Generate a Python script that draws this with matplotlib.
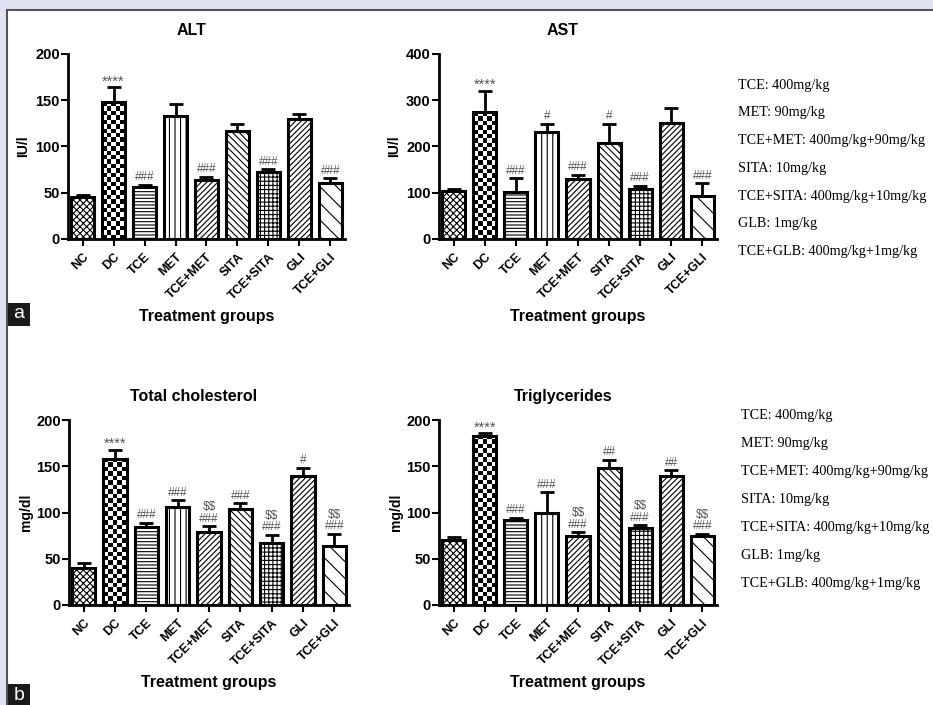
import numpy as np
import matplotlib
matplotlib.use("Agg")
import matplotlib.pyplot as plt
from matplotlib.patches import Rectangle
from matplotlib.lines import Line2D

groups = ["NC", "DC", "TCE", "MET", "TCE+MET", "SITA", "TCE+SITA", "GLI", "TCE+GLI"]

alt_mean = [45, 148, 56, 133, 64, 117, 72, 130, 61]
alt_err = [3, 16, 2.5, 13, 3.5, 7, 3.5, 5, 5]
alt_ann = ["", "****", "###", "", "###", "", "###", "", "###"]

ast_mean = [104, 274, 101, 232, 130, 207, 109, 250, 92]
ast_err = [4, 47, 30, 17, 9, 42, 6, 33, 29]
ast_ann = ["", "****", "###", "#", "###", "#", "###", "", "###"]

tc_mean = [40, 158, 84, 106, 79, 104, 67, 140, 64]
tc_err = [5, 10, 5, 7.5, 6, 6, 9, 8.5, 13]
tc_ann = ["", "****", "###", "###", "$$\n###", "###", "$$\n###", "#", "$$\n###"]

tg_mean = [70, 183, 92, 100, 75, 148, 83, 140, 75]
tg_err = [4, 3, 2.5, 22, 3.5, 9, 3.5, 5.5, 2]
tg_ann = ["", "****", "###", "###", "$$\n###", "##", "$$\n###", "##", "$$\n###"]

doses = ["TCE: 400mg/kg", "MET: 90mg/kg", "TCE+MET: 400mg/kg+90mg/kg", "SITA: 10mg/kg",
         "TCE+SITA: 400mg/kg+10mg/kg", "GLB: 1mg/kg", "TCE+GLB: 400mg/kg+1mg/kg"]

hatches = ["xxxxx", None, "-----", "|||", "//////", "\\\\\\\\\\", "++++", "//////", "\\\\"]

plt.rcParams["font.family"] = ["Liberation Sans", "DejaVu Sans"]
plt.rcParams["hatch.linewidth"] = 0.8

W, H = 933, 705
fig = plt.figure(figsize=(W / 100, H / 100), dpi=100)

def px_rect(x0, y0, x1, y1, **kw):
    fig.patches.append(Rectangle((x0 / W, 1 - y1 / H), (x1 - x0) / W, (y1 - y0) / H,
                                 transform=fig.transFigure, figure=fig, **kw))

# background frame
px_rect(0, 0, W, H, facecolor="#dfe3f1", edgecolor="none", zorder=-10)
px_rect(8, 11, W, H, facecolor="white", edgecolor="none", zorder=-9)
fig.lines.append(Line2D([7 / W, 1], [1 - 10 / H, 1 - 10 / H], transform=fig.transFigure,
                        color="#555555", lw=1.5, zorder=-8))
fig.lines.append(Line2D([7 / W, 7 / W], [0, 1 - 10 / H], transform=fig.transFigure,
                        color="#555555", lw=1.5, zorder=-8))


def checker(ax, patch):
    x, y = patch.get_x(), patch.get_y()
    w, h = patch.get_width(), patch.get_height()
    bb = patch.get_window_extent(fig.canvas.get_renderer())
    nx = max(2, int(round(bb.width / 4.4)))
    ny = max(2, int(round(bb.height / 4.4)))
    arr = (np.add.outer(np.arange(ny), np.arange(nx)) % 2).astype(float)
    im = ax.imshow(arr, cmap="gray", extent=(x, x + w, y, y + h), aspect="auto",
                   interpolation="nearest", zorder=1.9, origin="lower")
    im.set_clip_path(patch)
    patch.set_facecolor("none")


def panel(rect_px, title, means, errs, anns, ymax, ylabel, ylab_off):
    x0, y0, x1, y1 = rect_px
    wpx = x1 - x0
    hpx = y1 - y0
    ax = fig.add_axes([x0 / W, 1 - y1 / H, wpx / W, hpx / H])
    xs = np.arange(len(groups))
    bars = ax.bar(xs, means, width=0.74, color="white", edgecolor="black", linewidth=2.2,
                  zorder=2)
    for b, h in zip(bars, hatches):
        if h:
            b.set_hatch(h)
    ax.errorbar(xs, means, yerr=[np.zeros(len(errs)), errs], fmt="none", ecolor="black",
                elinewidth=2, capsize=5, capthick=2, zorder=1)
    ax.set_xlim(-0.47, len(groups) - 0.53)
    ax.set_ylim(0, ymax)
    fig.canvas.draw()
    checker(ax, bars[1])
    ax.set_xlim(-0.47, len(groups) - 0.53)
    ax.set_ylim(0, ymax)
    for i, (m, e, a) in enumerate(zip(means, errs, anns)):
        if a:
            fs = 10.5 if a.startswith("*") else 8.5
            ax.annotate(a, (i, m + e), xytext=(0, -1 if a.startswith("*") else 1),
                        textcoords="offset points", ha="center", va="bottom",
                        fontsize=fs, color="#555555", linespacing=0.95, parse_math=False)
    for s in ["top", "right"]:
        ax.spines[s].set_visible(False)
    for s in ["left", "bottom"]:
        ax.spines[s].set_linewidth(2)
    ax.set_yticks(np.linspace(0, ymax, 5))
    ax.set_xticks(xs)
    ax.set_xticklabels(groups, rotation=45, ha="right", rotation_mode="anchor",
                       fontweight="bold", fontsize=9)
    ax.tick_params(axis="both", width=1.5, length=5)
    ax.tick_params(axis="y", labelsize=10.5, pad=1)
    for t in ax.get_yticklabels():
        t.set_fontweight("bold")
    t = ax.set_title(title, fontweight="bold", fontsize=11.5, pad=14)
    t.set_x(0.5 - 15 / wpx)
    ax.set_xlabel("Treatment groups", fontweight="bold", fontsize=11.5)
    ax.xaxis.set_label_coords(0.5, -(309 - 239) / hpx)
    ax.set_ylabel(ylabel, fontweight="bold", fontsize=10)
    ax.yaxis.set_label_coords(-ylab_off / wpx, 0.5)
    return ax


panel((68, 54, 345, 239), "ALT", alt_mean, alt_err, alt_ann, 200, "IU/l", 38)
panel((439, 54, 717, 239), "AST", ast_mean, ast_err, ast_ann, 400, "IU/l", 38)
panel((69, 420, 349, 605), "Total cholesterol", tc_mean, tc_err, tc_ann, 200, "mg/dl", 36)
panel((439, 420, 717, 605), "Triglycerides", tg_mean, tg_err, tg_ann, 200, "mg/dl", 36)

for k, d in enumerate(doses):
    fig.text(738 / W, 1 - (85 + 27.8 * k) / H, d, family=["Liberation Serif", "DejaVu Serif"],
             fontsize=10.2, va="center", ha="left")
    fig.text(741 / W, 1 - (416 + 27.9 * k) / H, d, family=["Liberation Serif", "DejaVu Serif"],
             fontsize=10.2, va="center", ha="left")

for lab, ytop in [("a", 303), ("b", 684)]:
    px_rect(8, ytop, 30, ytop + 23, facecolor="#1a1a1a", edgecolor="none", zorder=5)
    fig.text(19 / W, 1 - (ytop + 11) / H, lab, color="white", fontsize=14,
             ha="center", va="center", zorder=6)

fig.savefig("out.png", dpi=100)
